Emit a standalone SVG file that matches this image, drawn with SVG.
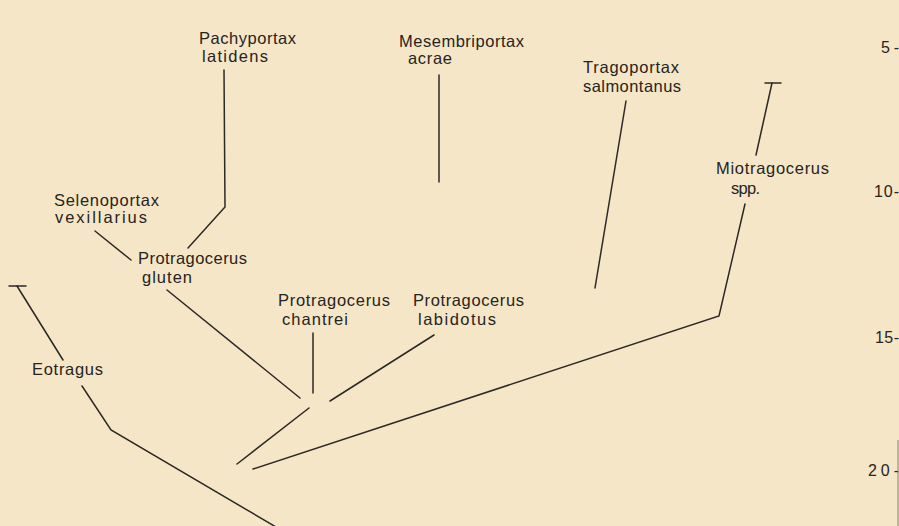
<svg xmlns="http://www.w3.org/2000/svg" width="899" height="526" viewBox="0 0 899 526">
<style>
text{font-family:"Liberation Sans",Arial,sans-serif;font-size:16.5px;fill:#262420;}
.ax{font-size:16px;}
.c line,.c polyline{stroke:#2b2926;stroke-width:1.5;fill:none;stroke-linecap:round;stroke-linejoin:miter;}
</style>
<rect width="899" height="526" fill="#f6e6c8"/>
<g id="axis">
<text class="ax" x="881" y="53" textLength="18" lengthAdjust="spacing">5-</text>
<text class="ax" x="874" y="197" textLength="25" lengthAdjust="spacing">10-</text>
<text class="ax" x="875" y="343" textLength="24" lengthAdjust="spacing">15-</text>
<text class="ax" x="868" y="476" textLength="31" lengthAdjust="spacing">20-</text>
<line x1="898" y1="440" x2="898" y2="526" stroke="#8a8070" stroke-width="1"/>
</g>
<g id="pachyportax"><text x="199" y="44" textLength="97" lengthAdjust="spacing">Pachyportax</text><text x="202" y="62" textLength="66" lengthAdjust="spacing">latidens</text></g>
<g id="mesembriportax"><text x="399" y="47" textLength="125" lengthAdjust="spacing">Mesembriportax</text><text x="408" y="64" textLength="44" lengthAdjust="spacing">acrae</text></g>
<g id="tragoportax"><text x="583" y="73" textLength="96" lengthAdjust="spacing">Tragoportax</text><text x="583" y="92" textLength="98" lengthAdjust="spacing">salmontanus</text></g>
<g id="miotragocerus"><text x="716" y="174" textLength="113" lengthAdjust="spacing">Miotragocerus</text><text x="731" y="194" textLength="29" lengthAdjust="spacing">spp.</text></g>
<g id="selenoportax"><text x="54" y="206" textLength="105" lengthAdjust="spacing">Selenoportax</text><text x="55" y="223" textLength="92" lengthAdjust="spacing">vexillarius</text></g>
<g id="gluten"><text x="138" y="264" textLength="109" lengthAdjust="spacing">Protragocerus</text><text x="142" y="283" textLength="50" lengthAdjust="spacing">gluten</text></g>
<g id="chantrei"><text x="278" y="306" textLength="112" lengthAdjust="spacing">Protragocerus</text><text x="282" y="325" textLength="66" lengthAdjust="spacing">chantrei</text></g>
<g id="labidotus"><text x="413" y="306" textLength="111" lengthAdjust="spacing">Protragocerus</text><text x="418" y="325" textLength="78" lengthAdjust="spacing">labidotus</text></g>
<g id="eotragus"><text x="32" y="375" textLength="71" lengthAdjust="spacing">Eotragus</text></g>
<g id="connectors" class="c">
<polyline points="224,70 225,207 188,248"/>
<line x1="95" y1="231" x2="131" y2="260"/>
<line x1="167" y1="290" x2="300" y2="398"/>
<line x1="439" y1="75" x2="439" y2="182"/>
<line x1="626" y1="101" x2="595" y2="288"/>
<line x1="772" y1="83" x2="756" y2="155"/>
<line x1="765" y1="83" x2="781" y2="83"/>
<polyline points="745,204 719,316 253,469"/>
<line x1="313" y1="333" x2="313" y2="393"/>
<line x1="434" y1="335" x2="330" y2="401"/>
<line x1="309" y1="408" x2="237" y2="464"/>
<line x1="9" y1="286" x2="26" y2="286"/>
<line x1="17" y1="286" x2="63" y2="360"/>
<polyline points="82,386 111,430 276,527"/>
</g>
</svg>
